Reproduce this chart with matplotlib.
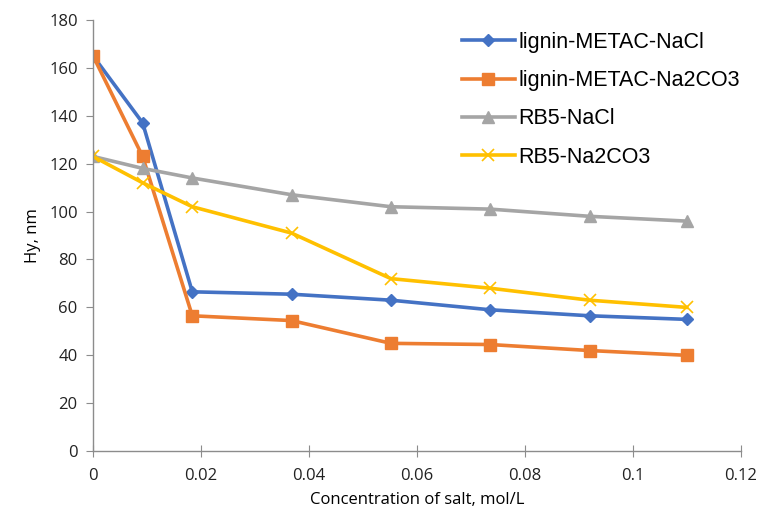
import matplotlib
matplotlib.use("Agg")
import matplotlib.pyplot as plt

# concentração de sal (mol/L) e Hy (nm)
conc = [0, 0.0092, 0.0184, 0.0368, 0.0552, 0.0736, 0.092, 0.11]
lignin_nacl = [165, 137, 66.5, 65.5, 63, 59, 56.5, 55]
lignin_na2co3 = [165, 123, 56.5, 54.5, 45, 44.5, 42, 40]
rb5_nacl = [123, 118, 114, 107, 102, 101, 98, 96]
rb5_na2co3 = [123, 112, 102, 91, 72, 68, 63, 60]

labels = ["lignin-METAC-NaCl", "lignin-METAC-Na2CO3", "RB5-NaCl", "RB5-Na2CO3"]
xticks = [0, 0.02, 0.04, 0.06, 0.08, 0.1, 0.12]
xticklabels = ["0", "0.02", "0.04", "0.06", "0.08", "0.1", "0.12"]
yticks = [0, 20, 40, 60, 80, 100, 120, 140, 160, 180]

fig = plt.figure(figsize=(7.62, 5.21), dpi=100)
ax = fig.add_axes([0.122, 0.134, 0.85, 0.828])

ax.plot(conc, lignin_nacl, color="#4472C4", lw=2.6, marker="D", ms=6.5, label=labels[0])
ax.plot(conc, lignin_na2co3, color="#ED7D31", lw=2.6, marker="s", ms=9, label=labels[1])
ax.plot(conc, rb5_nacl, color="#A5A5A5", lw=2.6, marker="^", ms=9, label=labels[2])
ax.plot(conc, rb5_na2co3, color="#FFC000", lw=2.6, marker="x", ms=9, mew=1.2, label=labels[3])

ax.set_xlim(0, 0.12)
ax.set_ylim(0, 180)
ax.set_xticks(xticks)
ax.set_xticklabels(xticklabels)
ax.set_yticks(yticks)

for s in ["top", "right"]:
    ax.spines[s].set_visible(False)
for s in ["left", "bottom"]:
    ax.spines[s].set_color("#8C8C8C")
    ax.spines[s].set_linewidth(1)
ax.tick_params(axis="x", direction="inout", length=8, color="#8C8C8C", labelsize=12, pad=8)
ax.tick_params(axis="y", direction="out", length=5, color="#8C8C8C", labelsize=12, pad=6)
for t in ax.get_xticklabels() + ax.get_yticklabels():
    t.set_fontfamily("Open Sans")
    t.set_color("#222222")

ax.set_xlabel("Concentration of salt, mol/L", fontsize=12, family="Open Sans", labelpad=6)
ax.set_ylabel("Hy, nm", fontsize=12, family="Open Sans", labelpad=6)

leg = ax.legend(loc="upper left", bbox_to_anchor=(0.569, 0.972), frameon=False,
                prop={"family": "Liberation Sans", "size": 15.5}, handlelength=2.5,
                labelspacing=0.8, handletextpad=0.15, borderaxespad=0, borderpad=0)

fig.savefig("out.png", dpi=100)
